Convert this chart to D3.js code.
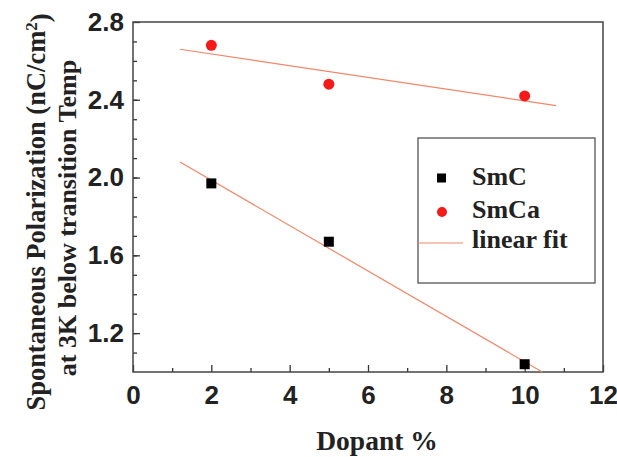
<!DOCTYPE html>
<html>
<head>
<meta charset="utf-8">
<script src="https://cdn.jsdelivr.net/npm/d3@7"></script>
<style>
  body { margin: 0; background: #fff; }
  svg { font-family: "Liberation Serif", "Times New Roman", serif; font-weight: bold; }
  .axis text { font-size: 26px; fill: #222; }
  .axis line { stroke: #333; stroke-width: 1.3; }
  .axis path { display: none; }
</style>
</head>
<body>
<div id="chart"></div>
<script>
// data
var dopant = [2, 5, 10];
var smC = [1.97, 1.67, 1.04];
var smCa = [2.68, 2.48, 2.42];
// linear fit end points
var fitCX = [1.2, 10.45];
var fitCY = [2.08, 1.0];
var fitCaX = [1.2, 10.8];
var fitCaY = [2.66, 2.37];
var xTicks = [0, 2, 4, 6, 8, 10, 12];
var yTicks = [1.2, 1.6, 2.0, 2.4, 2.8];
var legendNames = ["SmC", "SmCa", "linear fit"];

var W = 617, H = 457;
var margin = { top: 22, right: 14, bottom: 85, left: 133 };
var width = W - margin.left - margin.right,
    height = H - margin.top - margin.bottom;

var fitColor = "#f0876a";

var svg = d3.select("#chart").append("svg")
    .attr("width", W)
    .attr("height", H);

var g = svg.append("g")
    .attr("transform", "translate(" + margin.left + "," + margin.top + ")");

var xScale = d3.scaleLinear().domain([0, 12]).range([0, width]);
var yScale = d3.scaleLinear().domain([1.0, 2.8]).range([height, 0]);

// minor ticks
g.append("g")
    .attr("class", "axis")
    .attr("transform", "translate(0," + height + ")")
    .call(d3.axisBottom(xScale).tickValues(d3.range(1, 12, 2)).tickSize(-4).tickFormat(""));
g.append("g")
    .attr("class", "axis")
    .call(d3.axisLeft(yScale).tickValues(d3.range(1.1, 2.8, 0.1)).tickSize(-4).tickFormat(""));

// major ticks
g.append("g")
    .attr("class", "axis")
    .attr("transform", "translate(0," + height + ")")
    .call(d3.axisBottom(xScale).tickValues(xTicks).tickSizeInner(-7).tickSizeOuter(0).tickPadding(12)
        .tickFormat(d3.format("d")))
    .selectAll("text").attr("dy", "0.78em");

g.append("g")
    .attr("class", "axis")
    .call(d3.axisLeft(yScale).tickValues(yTicks).tickSizeInner(-7).tickSizeOuter(0).tickPadding(9)
        .tickFormat(d3.format(".1f")));

// frame
g.append("rect")
    .attr("width", width)
    .attr("height", height)
    .attr("fill", "none")
    .attr("stroke", "#444")
    .attr("stroke-width", 1.5);

// fit lines
var line = d3.line()
    .x(function (d) { return xScale(d[0]); })
    .y(function (d) { return yScale(d[1]); });

g.append("path")
    .datum(d3.zip(fitCX, fitCY))
    .attr("d", line)
    .attr("fill", "none")
    .attr("stroke", fitColor)
    .attr("stroke-width", 1.2);

g.append("path")
    .datum(d3.zip(fitCaX, fitCaY))
    .attr("d", line)
    .attr("fill", "none")
    .attr("stroke", fitColor)
    .attr("stroke-width", 1.2);

// SmC squares
g.selectAll(".sq")
    .data(d3.zip(dopant, smC))
    .enter().append("rect")
    .attr("class", "sq")
    .attr("x", function (d) { return xScale(d[0]) - 5; })
    .attr("y", function (d) { return yScale(d[1]) - 5; })
    .attr("width", 10)
    .attr("height", 10)
    .attr("fill", "#000");

// SmCa dots
g.selectAll(".dot")
    .data(d3.zip(dopant, smCa))
    .enter().append("circle")
    .attr("class", "dot")
    .attr("cx", function (d) { return xScale(d[0]); })
    .attr("cy", function (d) { return yScale(d[1]); })
    .attr("r", 5.5)
    .attr("fill", "#f41a1a");

// legend
var leg = svg.append("g").attr("transform", "translate(418,138)");
leg.append("rect")
    .attr("width", 177)
    .attr("height", 145)
    .attr("fill", "#fff")
    .attr("stroke", "#555")
    .attr("stroke-width", 1.3);

var symY = [40, 74, 105];
var textY = [47, 80, 110];
leg.append("rect").attr("x", 19).attr("y", symY[0] - 4.5).attr("width", 9).attr("height", 9).attr("fill", "#000");
leg.append("circle").attr("cx", 24).attr("cy", symY[1]).attr("r", 5).attr("fill", "#f41a1a");
leg.append("line").attr("x1", 0).attr("x2", 45).attr("y1", symY[2]).attr("y2", symY[2])
    .attr("stroke", fitColor).attr("stroke-width", 1.2);

leg.selectAll(".lt")
    .data(legendNames)
    .enter().append("text")
    .attr("x", 54)
    .attr("y", function (d, i) { return textY[i]; })
    .style("font-size", "26px")
    .attr("fill", "#222")
    .text(function (d) { return d; });

// axis titles
svg.append("text")
    .attr("x", 377)
    .attr("y", 450)
    .attr("text-anchor", "middle")
    .style("font-size", "27.5px")
    .attr("fill", "#222")
    .text("Dopant %");

var yt = svg.append("text")
    .attr("transform", "translate(45,212) rotate(-90)")
    .attr("text-anchor", "middle")
    .style("font-size", "26.5px")
    .attr("fill", "#222");
yt.append("tspan").text("Spontaneous Polarization (nC/cm");
yt.append("tspan").attr("dy", "-0.45em").style("font-size", "17px").text("2");
yt.append("tspan").attr("dy", "0.45em").text(")");

svg.append("text")
    .attr("transform", "translate(76,218) rotate(-90)")
    .attr("text-anchor", "middle")
    .style("font-size", "26px")
    .attr("fill", "#222")
    .text("at 3K below transition Temp");
</script>
</body>
</html>
